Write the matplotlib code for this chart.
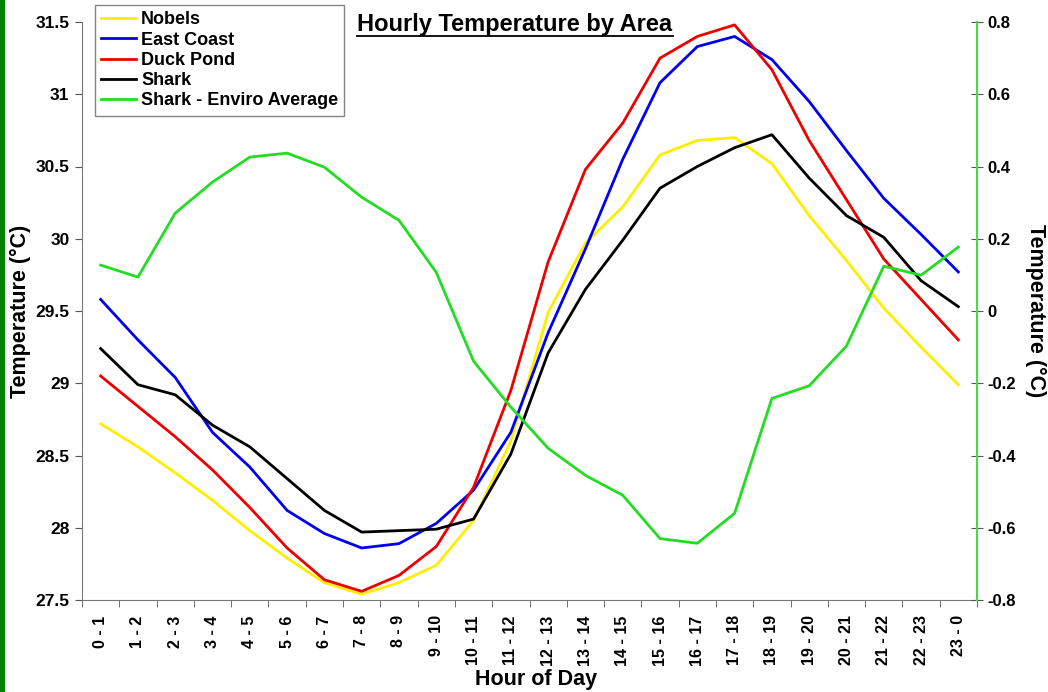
import numpy as np
import matplotlib
matplotlib.use('Agg')
import matplotlib.pyplot as plt
from matplotlib.lines import Line2D
from matplotlib.patches import Rectangle

plt.rcParams['font.family'] = ['Liberation Sans', 'DejaVu Sans']
plt.rcParams['font.weight'] = 'bold'

# Dati
hours = [f"{h} - {(h + 1) % 24}" for h in range(24)]
nobels = [28.72, 28.56, 28.38, 28.19, 27.98, 27.79, 27.62, 27.54, 27.62, 27.74, 28.05, 28.60,
          29.49, 29.97, 30.22, 30.58, 30.68, 30.70, 30.52, 30.16, 29.85, 29.52, 29.25, 28.99]
east_coast = [29.58, 29.30, 29.04, 28.66, 28.42, 28.12, 27.96, 27.86, 27.89, 28.03, 28.26, 28.66,
              29.35, 29.93, 30.55, 31.08, 31.33, 31.40, 31.24, 30.95, 30.61, 30.28, 30.03, 29.77]
duck_pond = [29.05, 28.84, 28.63, 28.40, 28.14, 27.86, 27.64, 27.56, 27.67, 27.87, 28.28, 28.95,
             29.84, 30.48, 30.80, 31.25, 31.40, 31.48, 31.17, 30.68, 30.27, 29.86, 29.58, 29.30]
shark = [29.24, 28.99, 28.92, 28.71, 28.56, 28.34, 28.12, 27.97, 27.98, 27.99, 28.06, 28.51,
         29.21, 29.65, 29.99, 30.35, 30.50, 30.63, 30.72, 30.42, 30.16, 30.01, 29.71, 29.53]
shark_enviro = [0.127, 0.094, 0.271, 0.357, 0.426, 0.437, 0.398, 0.315, 0.251, 0.107, -0.139, -0.266,
                -0.380, -0.455, -0.510, -0.630, -0.643, -0.560, -0.242, -0.207, -0.097, 0.124, 0.099, 0.177]

x = np.arange(len(hours))
lw = 2.0

fig = plt.figure(figsize=(10.48, 6.92), dpi=100)
ax = fig.add_axes([82 / 1048, 1 - 600 / 692, (977 - 82) / 1048, (600 - 22) / 692])
ax2 = ax.twinx()

l1, = ax.plot(x, nobels, color='#ffee00', lw=lw, label='Nobels')
l2, = ax.plot(x, east_coast, color='#0000ee', lw=lw, label='East Coast')
l3, = ax.plot(x, duck_pond, color='#ee0000', lw=lw, label='Duck Pond')
l4, = ax.plot(x, shark, color='black', lw=lw, label='Shark')
l5, = ax2.plot(x, shark_enviro, color='#22dd22', lw=lw, label='Shark - Enviro Average')

ax.set_xlim(-0.5, 23.5)
ax.set_ylim(27.5, 31.5)
ax2.set_ylim(-0.8, 0.8)

ax.set_yticks(np.arange(27.5, 31.51, 0.5))
ax.set_yticklabels([f"{v:g}" for v in np.arange(27.5, 31.51, 0.5)], fontsize=12.5, fontweight='bold')
ax2.set_yticks(np.arange(-0.8, 0.81, 0.2))
ax2.set_yticklabels([f"{v:.1f}".replace('-0.0', '0').replace('0.0', '0') for v in np.arange(-0.8, 0.81, 0.2)],
                    fontsize=12, fontweight='bold')

ax.set_xticks(x)
ax.set_xticklabels(hours, rotation=90, fontsize=11.5, fontweight='bold')
ax.set_xticks(np.arange(-0.5, 24, 1), minor=True)
ax.tick_params(axis='x', which='major', length=0, pad=11)
ax.tick_params(axis='x', which='minor', length=5, color='#555555', direction='out')
ax.tick_params(axis='y', length=5, color='#555555', direction='out', pad=4)
ax2.tick_params(axis='y', length=8, color='#555555', direction='inout')

for s in ['top']:
    ax.spines[s].set_visible(False)
    ax2.spines[s].set_visible(False)
ax.spines['left'].set_color('#777777')
ax.spines['bottom'].set_color('#777777')
ax2.spines['left'].set_visible(False)
ax2.spines['bottom'].set_visible(False)
ax2.spines['right'].set_color('#44dd44')
ax2.spines['right'].set_linewidth(1.5)
ax.spines['right'].set_visible(False)

fig.text(536 / 1048, 1 - 680 / 692, 'Hour of Day', ha='center', va='center',
         fontsize=15.5, fontweight='bold')
ax.set_ylabel('Temperature (°C)', fontsize=15.5, fontweight='bold', labelpad=3)
ax2.set_ylabel('Temperature (°C)', fontsize=15.5, fontweight='bold', rotation=-90, labelpad=22)

leg = fig.legend(handles=[l1, l2, l3, l4, l5], loc='upper left',
                 bbox_to_anchor=(95 / 1048, 1 - 5 / 692),
                 prop={'weight': 'bold', 'size': 13}, frameon=True, fancybox=False,
                 handlelength=1.9, handletextpad=0.3, labelspacing=0.18, borderpad=0.35,
                 borderaxespad=0)
leg.get_frame().set_edgecolor('#666666')
leg.get_frame().set_linewidth(1.0)

# Titolo sottolineato
title = fig.text(515 / 1048, 1 - 25 / 692, 'Hourly Temperature by Area', ha='center', va='center',
                 fontsize=17, fontweight='bold')
fig.canvas.draw()
bb = title.get_window_extent().transformed(fig.transFigure.inverted())
fig.add_artist(Line2D([bb.x0, bb.x1], [bb.y0 + 0.001, bb.y0 + 0.001], color='black', lw=1.3,
                      transform=fig.transFigure))

# Bordo verde a sinistra
fig.add_artist(Rectangle((0, 0), 4 / 1048, 1, transform=fig.transFigure, color='#008000'))

fig.savefig('out.png', dpi=100)
